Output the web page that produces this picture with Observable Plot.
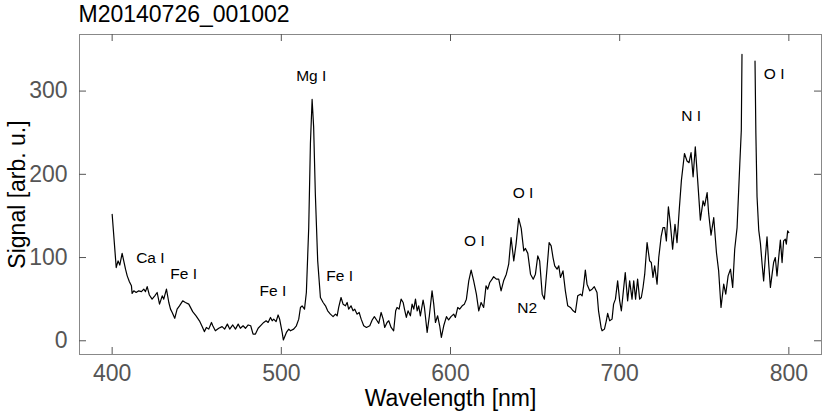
<!DOCTYPE html>
<html><head><meta charset="utf-8">
<script src="https://cdn.jsdelivr.net/npm/d3@7"></script>
<script src="https://cdn.jsdelivr.net/npm/@observablehq/plot@0.6"></script>
<style>body{margin:0;background:#fff;} svg{display:block}</style>
</head><body><div id="chart"></div>
<script>
const chartTitle = "M20140726_001002";
const xLabel = "Wavelength [nm]";
const yLabel = "Signal [arb. u.]";
const xTicks = [400, 500, 600, 700, 800];
const yTicks = [0, 100, 200, 300];

const wavelength = [
400,402.4,403.5,404.5,405.9,407.9,408.9,410.2,411.4,411.8,412.8,414.2,415.7,417.3,418.7,419.7,420.7,422,423.6,425.2,
426.6,428,429.6,430.5,432.1,433.5,434.5,435.5,437,438.4,439.8,441.7,443.3,445.3,447.6,449.6,451.6,453.2,454.5,455.7,
457.1,458.7,459.5,461,463,465,466.5,468.1,469.5,471.3,472.9,474.5,475.8,477.4,478.8,480.4,481.9,483.3,484.7,486.3,
488.2,489.6,491,492.2,493.6,494.6,495.5,496.9,498.1,499,500.5,501.2,503,504.4,505.4,507.3,508.9,510.3,511.3,512.3,
513.7,514.8,516.2,517.2,518.2,519.1,520.1,521.5,523.1,524.7,526.1,527.4,529,530.6,532,533,533.9,535.3,536.5,537.9,
538.9,539.8,541.2,542.4,543.4,544.8,546,547.2,548.7,550.3,552.3,553.7,555,556.6,557.6,559,560.2,561.1,562.5,563.5,
564.9,566.4,567.6,568.4,569.6,570.8,572,572.8,573.9,574.9,576.3,577.3,578.3,579.3,580.3,581.2,582.2,583.8,584.6,586.2,
587.5,589.1,590.1,591.1,592.4,593.6,594.6,596,597.6,598.9,600.3,601.9,602.9,604.3,605.4,606.9,608.2,609.4,610.8,612.2,
613.7,615.3,616.7,618.1,619.6,621,622,623.2,624.6,625.5,627.1,628.5,629.9,631.4,633,634.4,635.8,637.4,638.8,640.3,
641.8,643.3,644.3,645.7,647.3,648.9,650.2,651.6,652.7,654.2,655.5,657.1,658.3,659.5,660.6,661.6,663,664,665,666.5,
667.9,669.3,670.9,672.5,673.8,675.2,676.8,677.8,678.7,679.7,680.7,682.3,683.7,685,686.6,687.5,689,689.6,691,692.1,
692.9,694.1,695.5,696.4,697.5,698.8,700,701,702,703.3,704.7,705.9,707.3,708.3,709.4,710.6,711.8,712.8,713.8,714.8,
716.2,717.7,718.7,719.7,720.7,722.1,723.1,724.5,725.6,726.6,727.6,728.8,730,731.3,732.7,733.9,735.3,736.5,738.3,739.8,
741,742.2,743.4,744.7,746.1,747.7,749.3,750.2,751.7,752.6,754,755.6,757.2,758.5,759.9,761.5,762.7,764.1,765.5,766.8,
768,769.4,771,771.9,772.3,776,780,780.5,781.2,782.2,783.2,784.2,785.1,786.1,787.1,788.1,789.1,790.1,791,792,
793,794,795,796,796.9,797.9,798.5,799.3,800
];
const signal = [
152,88,96,91,105,86,78,71,66,57,60,58,60,59,62,59,65,55,50,54,
58,44,54,50,62,46,38,34,27,38,42,48,46,44,35,30,24,17,11,16,
14,22,18,12,15,17,14,20,14,19,14,20,15,18,15,19,18,8,8,15,
19,22,24,22,28,24,26,23,31,26,10,1,10,14,12,14,18,26,40,42,
38,58,136,237,290,257,177,96,52,46,42,36,32,29,32,30,40,52,44,42,
46,38,42,36,38,32,34,26,18,16,18,25,29,24,21,34,26,16,22,24,
16,12,36,40,38,50,46,38,28,36,30,44,38,50,36,42,30,49,40,10,
30,60,44,22,30,18,4,18,29,25,29,32,28,40,38,42,44,50,72,85,
72,56,36,46,40,66,62,70,74,77,74,74,60,72,80,92,124,96,117,147,
135,108,111,105,80,74,80,102,96,56,50,88,118,114,100,90,86,90,76,84,
60,42,40,36,34,54,56,54,66,85,68,60,62,65,58,36,16,12,14,24,
33,24,26,44,50,72,48,36,56,82,48,72,50,72,50,74,50,52,64,80,
118,96,94,76,90,68,100,125,136,136,120,161,140,110,140,118,160,193,225,216,
214,226,197,233,193,145,168,162,178,153,127,148,106,84,40,68,56,78,86,64,
110,136,212,253,344,null,336,250,173,133,117,92,72,100,125,92,64,80,94,100,
78,100,121,94,120,122,116,132,130
];

const peakLabels = ["Ca I", "Fe I", "Fe I", "Mg I", "Fe I", "O I", "O I", "N2", "N I", "O I"];
const labelWavelength = [422.6, 442.3, 495, 517.7, 534.5, 614.1, 642.9, 645.3, 742.3, 791.3];
const labelSignal = [100, 80, 59.5, 318, 77.5, 119.6, 178, 39.4, 269.8, 320.4];

const spectrum = wavelength.map((w, i) => ({w, s: signal[i]}));
const labels = peakLabels.map((t, i) => ({t, w: labelWavelength[i], s: labelSignal[i]}));

const font = "'Liberation Sans', Arial, Helvetica, sans-serif";
const tickColor = "#555";
const frameW = 830 - 79 - 9, frameH = 415 - 34 - 61, tickLen = 7;
const plot = Plot.plot({
  width: 830, height: 415,
  marginLeft: 79, marginRight: 9, marginTop: 34, marginBottom: 61,
  style: {fontFamily: font, background: "#fff"},
  x: {domain: [380.7, 819.3]},
  y: {domain: [-16.5, 368]},
  marks: [
    Plot.frame({stroke: "#888"}),
    Plot.ruleX(xTicks, {insetTop: frameH - tickLen, stroke: tickColor}),
    Plot.ruleX(xTicks, {insetBottom: frameH - tickLen, stroke: tickColor}),
    Plot.ruleY(yTicks, {insetRight: frameW - tickLen, stroke: tickColor}),
    Plot.ruleY(yTicks, {insetLeft: frameW - tickLen, stroke: tickColor}),
    Plot.axisX(xTicks, {anchor: "bottom", tickSize: 0, tickPadding: 10, fontSize: 23, color: tickColor, label: null}),
    Plot.axisY(yTicks, {anchor: "left", tickSize: 0, tickPadding: 12, fontSize: 23, color: tickColor, label: null}),
    Plot.line(spectrum, {x: "w", y: "s", stroke: "#000", strokeWidth: 1.2}),
    Plot.text(labels, {x: "w", y: "s", text: "t", fontSize: 15.5, fill: "#000"}),
    Plot.text([chartTitle], {frameAnchor: "top-left", dx: -1, dy: -20, textAnchor: "start", lineAnchor: "middle", fontSize: 23, fill: "#000"}),
    Plot.text([xLabel], {frameAnchor: "bottom", dy: 44, textAnchor: "middle", lineAnchor: "middle", fontSize: 23, fill: "#000"}),
    Plot.text([yLabel], {frameAnchor: "left", dx: -62, rotate: -90, textAnchor: "middle", lineAnchor: "middle", fontSize: 23, fill: "#000"})
  ]
});
document.getElementById("chart").appendChild(plot);
</script>
</body></html>
